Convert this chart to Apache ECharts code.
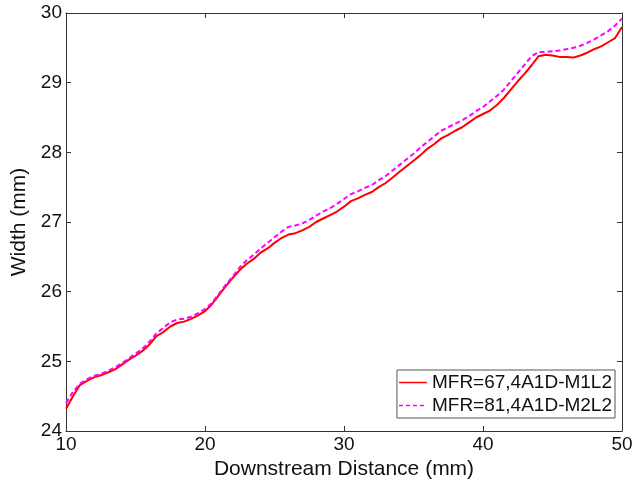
<!DOCTYPE html>
<html>
<head>
<meta charset="utf-8">
<script src="https://cdn.jsdelivr.net/npm/echarts@6/dist/echarts.min.js"></script>
<style>html,body{margin:0;padding:0;background:#fff}#c{width:637px;height:480px}</style>
</head>
<body>
<div id="c"></div>
<script>
var distance = [10,10.5,11,11.5,12,12.5,13,13.5,14,14.5,15,15.5,16,16.5,17,17.5,18,18.5,19,19.5,20,20.5,21,21.5,22,22.5,23,23.5,24,24.5,25,25.5,26,26.5,27,27.5,28,28.5,29,29.5,30,30.5,31,31.5,32,32.5,33,33.5,34,34.5,35,35.5,36,36.5,37,37.5,38,38.5,39,39.5,40,40.5,41,41.5,42,42.5,43,43.5,44,44.5,45,45.5,46,46.5,47,47.5,48,48.5,49,49.5,50];
var widthM1L2 = [24.32,24.50,24.66,24.72,24.77,24.80,24.84,24.88,24.95,25.02,25.08,25.15,25.24,25.36,25.42,25.50,25.55,25.57,25.61,25.66,25.72,25.82,25.95,26.08,26.20,26.31,26.40,26.47,26.56,26.62,26.70,26.77,26.82,26.84,26.88,26.93,27.00,27.05,27.10,27.15,27.22,27.30,27.34,27.39,27.43,27.50,27.56,27.64,27.72,27.80,27.88,27.96,28.05,28.12,28.20,28.25,28.31,28.36,28.43,28.50,28.55,28.60,28.68,28.78,28.90,29.02,29.13,29.25,29.38,29.40,29.39,29.37,29.37,29.36,29.39,29.43,29.48,29.52,29.58,29.64,29.80];
var widthM2L2 = [24.40,24.56,24.68,24.74,24.79,24.82,24.86,24.91,24.97,25.04,25.11,25.18,25.28,25.40,25.48,25.56,25.60,25.61,25.64,25.69,25.75,25.84,25.97,26.10,26.22,26.35,26.45,26.53,26.62,26.70,26.78,26.86,26.93,26.95,26.98,27.03,27.09,27.15,27.20,27.26,27.33,27.40,27.44,27.49,27.53,27.60,27.66,27.74,27.82,27.90,27.98,28.07,28.15,28.23,28.31,28.36,28.41,28.46,28.52,28.59,28.65,28.73,28.81,28.90,29.02,29.14,29.26,29.38,29.44,29.44,29.45,29.46,29.48,29.50,29.53,29.57,29.62,29.68,29.74,29.82,29.92];
var seriesNames = ['MFR=67,4A1D-M1L2','MFR=81,4A1D-M2L2'];
var xTitle = 'Downstream Distance (mm)';
var yTitle = 'Width (mm)';

function pairs(xs, ys){ return xs.map(function(x,i){ return [x, ys[i]]; }); }

var font = 'Liberation Sans, Arial, sans-serif';
var axisCol = '#333';
var solidIcon = 'path://M0,0h28v1.5h-28z';
var dashIcon = 'path://M0,0h4v1.5h-4z M7,0h4v1.5h-4z M14,0h4v1.5h-4z M21,0h4v1.5h-4z M28,0h0.01v1.5h-0.01z';
var chart = echarts.init(document.getElementById('c'), null, {renderer:'canvas'});
chart.setOption({
  animation:false,
  backgroundColor:'#fff',
  grid:{left:66, right:15, top:13, bottom:49, containLabel:false, outerBoundsMode:'none'},
  xAxis:[{
    type:'value', min:10, max:50, interval:10,
    name:xTitle, nameLocation:'middle', nameGap:25,
    nameTextStyle:{fontFamily:font, fontSize:21, color:'#111'},
    axisLine:{onZero:false, lineStyle:{color:axisCol, width:1}},
    axisTick:{inside:true, length:5, lineStyle:{color:axisCol}},
    axisLabel:{fontFamily:font, fontSize:19, color:'#111', margin:4},
    splitLine:{show:false}
  },{
    type:'value', min:10, max:50, interval:10, position:'top',
    axisLine:{onZero:false, lineStyle:{color:axisCol, width:1}},
    axisTick:{inside:true, length:5, lineStyle:{color:axisCol}},
    axisLabel:{show:false}, splitLine:{show:false}
  }],
  yAxis:[{
    type:'value', min:24, max:30, interval:1,
    name:yTitle, nameLocation:'middle', nameGap:32, nameRotate:90,
    nameTextStyle:{fontFamily:font, fontSize:21, color:'#111'},
    axisLine:{show:true, onZero:false, lineStyle:{color:axisCol, width:1}},
    axisTick:{show:true, inside:true, length:5, lineStyle:{color:axisCol}},
    axisLabel:{fontFamily:font, fontSize:19, color:'#111', margin:4},
    splitLine:{show:false}
  },{
    type:'value', min:24, max:30, interval:1, position:'right',
    axisLine:{show:true, onZero:false, lineStyle:{color:axisCol, width:1}},
    axisTick:{show:true, inside:true, length:5, lineStyle:{color:axisCol}},
    axisLabel:{show:false}, splitLine:{show:false}
  }],
  legend:{
    show:true,
    orient:'vertical', right:22, top:370,
    itemWidth:28, itemHeight:2, itemGap:4, itemTextGap:2,
    padding:[3,3,3,2],
    borderColor:'#555', borderWidth:1, backgroundColor:'#fff',
    textStyle:{fontFamily:font, fontSize:19, color:'#111'},
    data:[
      {name:seriesNames[0], icon:solidIcon, itemStyle:{color:'#ff0000'}},
      {name:seriesNames[1], icon:dashIcon, itemStyle:{color:'#ff00ff'}}
    ]
  },
  series:[
    {name:seriesNames[0], type:'line', data:pairs(distance, widthM1L2), showSymbol:false, symbol:'none',
     lineStyle:{color:'#ff0000', width:2}, itemStyle:{color:'#ff0000'}, z:2},
    {name:seriesNames[1], type:'line', data:pairs(distance, widthM2L2), showSymbol:false, symbol:'none',
     lineStyle:{color:'#ff00ff', width:2, type:[5,3]}, itemStyle:{color:'#ff00ff'}, z:3}
  ]
});
</script>
</body>
</html>
